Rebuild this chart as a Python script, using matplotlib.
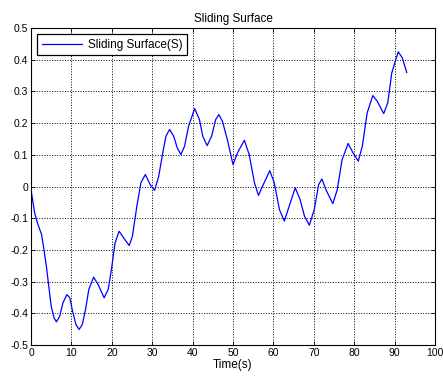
import numpy as np
import matplotlib
matplotlib.use("Agg")
import matplotlib.pyplot as plt

# values
t = [0.0, 0.9, 1.6, 2.6, 3.2, 3.8, 4.4, 5.0, 5.7, 6.3, 7.1, 7.9, 8.9, 9.6,
     10.2, 11.1, 11.9, 12.7, 13.5, 14.3, 15.5, 16.6, 18.1, 19.1, 19.9, 20.8,
     21.8, 23.2, 24.3, 25.1, 26.2, 27.2, 28.3, 29.5, 30.6, 31.6, 32.6, 33.4,
     34.3, 35.3, 36.2, 37.1, 38.0, 39.0, 40.5, 41.7, 42.5, 43.6, 44.7, 45.7,
     46.5, 47.4, 48.6, 50.0, 51.1, 52.8, 54.0, 55.3, 56.3, 57.3, 59.1, 60.2,
     61.5, 62.7, 63.9, 65.4, 66.6, 67.7, 68.9, 70.1, 71.2, 72.0, 73.0, 74.7,
     75.8, 77.0, 78.5, 79.5, 81.0, 82.0, 83.2, 84.6, 85.7, 87.3, 88.3, 89.3,
     90.9, 91.9, 93.0]
s = [-0.01, -0.083, -0.115, -0.151, -0.199, -0.251, -0.315, -0.378, -0.414,
     -0.427, -0.409, -0.367, -0.341, -0.351, -0.388, -0.435, -0.451, -0.435,
     -0.388, -0.325, -0.286, -0.309, -0.351, -0.325, -0.262, -0.178, -0.141,
     -0.167, -0.186, -0.157, -0.062, 0.012, 0.038, 0.006, -0.012, 0.032,
     0.106, 0.159, 0.180, 0.159, 0.122, 0.101, 0.127, 0.190, 0.246, 0.211,
     0.159, 0.129, 0.159, 0.211, 0.227, 0.205, 0.148, 0.069, 0.106, 0.146,
     0.101, 0.012, -0.028, 0.001, 0.050, 0.012, -0.073, -0.109, -0.062,
     -0.004, -0.041, -0.094, -0.122, -0.073, 0.006, 0.024, -0.010, -0.054,
     -0.010, 0.085, 0.136, 0.111, 0.080, 0.127, 0.232, 0.287, 0.269, 0.230,
     0.264, 0.359, 0.425, 0.406, 0.360]
y_ticks = [-0.5, -0.4, -0.3, -0.2, -0.1, 0, 0.1, 0.2, 0.3, 0.4, 0.5]

plt.rcParams["font.family"] = ["Liberation Sans", "DejaVu Sans"]

fig = plt.figure(figsize=(4.43, 3.76), dpi=100)
ax = fig.add_axes([0.070, 0.0824, 0.912, 0.843])

ax.plot(t, s, color="#0000ff", lw=0.9, label="Sliding Surface(S)")

ax.set_xlim(0, 100)
ax.set_ylim(-0.5, 0.5)
ax.set_xticks(np.arange(0, 101, 10))
ax.set_yticks(y_ticks)
ax.set_yticklabels([f"{v:g}" for v in y_ticks])
ax.tick_params(direction="in", top=True, right=True, labelsize=7.5,
               length=3, width=0.6, pad=2)
ax.grid(True, color="black", ls=":", lw=0.7)
for sp in ax.spines.values():
    sp.set_linewidth(0.8)

ax.set_title("Sliding Surface", fontsize=8.5, pad=4)
ax.set_xlabel("Time(s)", fontsize=8.5, labelpad=1)

leg = ax.legend(loc="upper left", fontsize=8.5, fancybox=False,
                framealpha=1, edgecolor="black", handlelength=3.4,
                borderaxespad=0.5, borderpad=0.4, handletextpad=0.5)
leg.get_frame().set_linewidth(0.9)

plt.savefig("out.png", dpi=100)
plt.close()
